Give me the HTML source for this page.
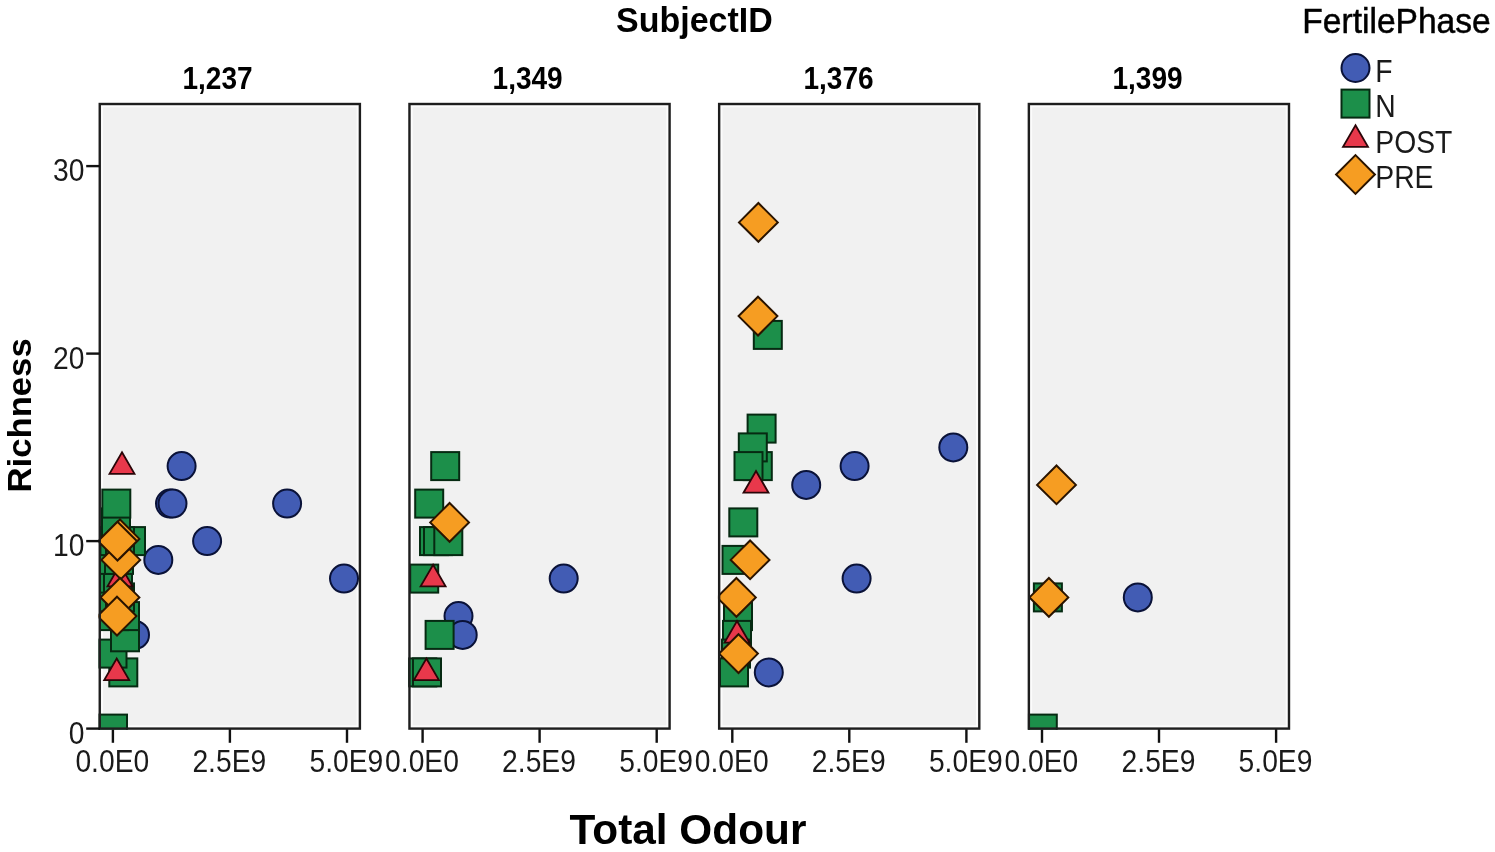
<!DOCTYPE html>
<html lang="en"><head><meta charset="utf-8"><title>Richness vs Total Odour by SubjectID</title>
<style>html,body{margin:0;padding:0;background:#fff}body{width:1495px;height:852px;overflow:hidden}svg{display:block}</style>
</head><body>
<svg width="1495" height="852" viewBox="0 0 1495 852" font-family="'Liberation Sans', Arial, sans-serif">
<rect width="1495" height="852" fill="#fff"/>
<defs>
<clipPath id="c0"><rect x="98.55" y="102.8" width="262.5" height="627.0"/></clipPath>
<clipPath id="c1"><rect x="408.25" y="102.8" width="262.5" height="627.0"/></clipPath>
<clipPath id="c2"><rect x="717.95" y="102.8" width="262.5" height="627.0"/></clipPath>
<clipPath id="c3"><rect x="1027.65" y="102.8" width="262.5" height="627.0"/></clipPath>
</defs>
<rect x="99.75" y="104.0" width="260.15" height="624.6" fill="#F1F1F1"/>
<rect x="102.15" y="106.4" width="255.35" height="619.8" fill="none" stroke="#fff" stroke-opacity="0.75" stroke-width="1.8"/>
<line x1="112.9" y1="728.6" x2="112.9" y2="742.8" stroke="#111" stroke-width="2.4"/>
<text transform="translate(112.3,771.6) scale(0.917,1)" font-size="30.8" text-anchor="middle" fill="#1a1a1a">0.0E0</text>
<line x1="229.9" y1="728.6" x2="229.9" y2="742.8" stroke="#111" stroke-width="2.4"/>
<text transform="translate(229.3,771.6) scale(0.917,1)" font-size="30.8" text-anchor="middle" fill="#1a1a1a">2.5E9</text>
<line x1="347.0" y1="728.6" x2="347.0" y2="742.8" stroke="#111" stroke-width="2.4"/>
<text transform="translate(346.4,771.6) scale(0.917,1)" font-size="30.8" text-anchor="middle" fill="#1a1a1a">5.0E9</text>
<text transform="translate(217.5,89.0) scale(0.89,1)" font-size="31.5" text-anchor="middle" fill="#000" font-weight="bold">1,237</text>
<g clip-path="url(#c0)">
<circle cx="181.6" cy="466.1" r="14.0" fill="#425CB4" stroke="#0A1238" stroke-width="2.0"/>
<circle cx="170.0" cy="503.6" r="14.0" fill="#425CB4" stroke="#0A1238" stroke-width="2.0"/>
<circle cx="172.5" cy="503.6" r="14.0" fill="#425CB4" stroke="#0A1238" stroke-width="2.0"/>
<circle cx="287.1" cy="503.6" r="14.0" fill="#425CB4" stroke="#0A1238" stroke-width="2.0"/>
<circle cx="207.1" cy="541.1" r="14.0" fill="#425CB4" stroke="#0A1238" stroke-width="2.0"/>
<circle cx="158.3" cy="559.9" r="14.0" fill="#425CB4" stroke="#0A1238" stroke-width="2.0"/>
<circle cx="344.0" cy="578.6" r="14.0" fill="#425CB4" stroke="#0A1238" stroke-width="2.0"/>
<circle cx="135.0" cy="634.9" r="14.0" fill="#425CB4" stroke="#0A1238" stroke-width="2.0"/>
<rect x="99.0" y="714.6" width="28" height="28" fill="#1C8F4A" stroke="#062A12" stroke-width="2.0"/>
<rect x="109.3" y="658.4" width="28" height="28" fill="#1C8F4A" stroke="#062A12" stroke-width="2.0"/>
<rect x="98.5" y="639.6" width="28" height="28" fill="#1C8F4A" stroke="#062A12" stroke-width="2.0"/>
<rect x="111.0" y="623.3" width="28" height="28" fill="#1C8F4A" stroke="#062A12" stroke-width="2.0"/>
<rect x="100.0" y="602.1" width="28" height="28" fill="#1C8F4A" stroke="#062A12" stroke-width="2.0"/>
<rect x="111.0" y="602.1" width="28" height="28" fill="#1C8F4A" stroke="#062A12" stroke-width="2.0"/>
<rect x="100.0" y="583.4" width="28" height="28" fill="#1C8F4A" stroke="#062A12" stroke-width="2.0"/>
<rect x="106.0" y="583.4" width="28" height="28" fill="#1C8F4A" stroke="#062A12" stroke-width="2.0"/>
<rect x="100.0" y="564.6" width="28" height="28" fill="#1C8F4A" stroke="#062A12" stroke-width="2.0"/>
<rect x="104.0" y="564.6" width="28" height="28" fill="#1C8F4A" stroke="#062A12" stroke-width="2.0"/>
<rect x="100.0" y="545.9" width="28" height="28" fill="#1C8F4A" stroke="#062A12" stroke-width="2.0"/>
<rect x="105.0" y="545.9" width="28" height="28" fill="#1C8F4A" stroke="#062A12" stroke-width="2.0"/>
<rect x="117.0" y="527.1" width="28" height="28" fill="#1C8F4A" stroke="#062A12" stroke-width="2.0"/>
<rect x="100.4" y="527.1" width="28" height="28" fill="#1C8F4A" stroke="#062A12" stroke-width="2.0"/>
<rect x="106.0" y="527.1" width="28" height="28" fill="#1C8F4A" stroke="#062A12" stroke-width="2.0"/>
<rect x="102.0" y="508.4" width="28" height="28" fill="#1C8F4A" stroke="#062A12" stroke-width="2.0"/>
<rect x="102.3" y="489.6" width="28" height="28" fill="#1C8F4A" stroke="#062A12" stroke-width="2.0"/>
<polygon points="122.0,452.2 134.5,473.9 109.5,473.9" fill="#E8384B" stroke="#2A0508" stroke-width="1.8"/>
<polygon points="120.0,564.7 132.5,586.4 107.5,586.4" fill="#E8384B" stroke="#2A0508" stroke-width="1.8"/>
<polygon points="116.7,658.5 129.2,680.1 104.2,680.1" fill="#E8384B" stroke="#2A0508" stroke-width="1.8"/>
<polygon points="120.8,540.5 140.2,559.9 120.8,579.2 101.4,559.9" fill="#F69D22" stroke="#2A1400" stroke-width="2.0"/>
<polygon points="120.0,519.5 139.4,538.9 120.0,558.2 100.6,538.9" fill="#F69D22" stroke="#2A1400" stroke-width="2.0"/>
<polygon points="117.5,521.7 136.9,541.1 117.5,560.5 98.1,541.1" fill="#F69D22" stroke="#2A1400" stroke-width="2.0"/>
<polygon points="120.0,578.0 139.4,597.4 120.0,616.8 100.6,597.4" fill="#F69D22" stroke="#2A1400" stroke-width="2.0"/>
<polygon points="117.0,596.7 136.4,616.1 117.0,635.5 97.6,616.1" fill="#F69D22" stroke="#2A1400" stroke-width="2.0"/>
</g>
<rect x="99.75" y="104.0" width="260.15" height="624.6" fill="none" stroke="#1e1e1e" stroke-width="2.4"/>
<rect x="409.45" y="104.0" width="260.15" height="624.6" fill="#F1F1F1"/>
<rect x="411.85" y="106.4" width="255.35" height="619.8" fill="none" stroke="#fff" stroke-opacity="0.75" stroke-width="1.8"/>
<line x1="422.6" y1="728.6" x2="422.6" y2="742.8" stroke="#111" stroke-width="2.4"/>
<text transform="translate(422.0,771.6) scale(0.917,1)" font-size="30.8" text-anchor="middle" fill="#1a1a1a">0.0E0</text>
<line x1="539.6" y1="728.6" x2="539.6" y2="742.8" stroke="#111" stroke-width="2.4"/>
<text transform="translate(539.0,771.6) scale(0.917,1)" font-size="30.8" text-anchor="middle" fill="#1a1a1a">2.5E9</text>
<line x1="656.7" y1="728.6" x2="656.7" y2="742.8" stroke="#111" stroke-width="2.4"/>
<text transform="translate(656.1,771.6) scale(0.917,1)" font-size="30.8" text-anchor="middle" fill="#1a1a1a">5.0E9</text>
<text transform="translate(527.6,89.0) scale(0.89,1)" font-size="31.5" text-anchor="middle" fill="#000" font-weight="bold">1,349</text>
<g clip-path="url(#c1)">
<circle cx="563.7" cy="578.6" r="14.0" fill="#425CB4" stroke="#0A1238" stroke-width="2.0"/>
<circle cx="458.5" cy="616.1" r="14.0" fill="#425CB4" stroke="#0A1238" stroke-width="2.0"/>
<circle cx="462.7" cy="634.9" r="14.0" fill="#425CB4" stroke="#0A1238" stroke-width="2.0"/>
<rect x="431.2" y="452.1" width="28" height="28" fill="#1C8F4A" stroke="#062A12" stroke-width="2.0"/>
<rect x="415.2" y="489.6" width="28" height="28" fill="#1C8F4A" stroke="#062A12" stroke-width="2.0"/>
<rect x="420.0" y="527.1" width="28" height="28" fill="#1C8F4A" stroke="#062A12" stroke-width="2.0"/>
<rect x="424.0" y="527.1" width="28" height="28" fill="#1C8F4A" stroke="#062A12" stroke-width="2.0"/>
<rect x="434.3" y="527.1" width="28" height="28" fill="#1C8F4A" stroke="#062A12" stroke-width="2.0"/>
<rect x="410.2" y="564.6" width="28" height="28" fill="#1C8F4A" stroke="#062A12" stroke-width="2.0"/>
<rect x="425.6" y="620.9" width="28" height="28" fill="#1C8F4A" stroke="#062A12" stroke-width="2.0"/>
<rect x="408.3" y="658.4" width="28" height="28" fill="#1C8F4A" stroke="#062A12" stroke-width="2.0"/>
<rect x="413.0" y="658.4" width="28" height="28" fill="#1C8F4A" stroke="#062A12" stroke-width="2.0"/>
<polygon points="433.1,564.7 445.6,586.4 420.6,586.4" fill="#E8384B" stroke="#2A0508" stroke-width="1.8"/>
<polygon points="426.4,658.5 438.9,680.1 413.9,680.1" fill="#E8384B" stroke="#2A0508" stroke-width="1.8"/>
<polygon points="449.6,503.0 469.0,522.4 449.6,541.8 430.2,522.4" fill="#F69D22" stroke="#2A1400" stroke-width="2.0"/>
</g>
<rect x="409.45" y="104.0" width="260.15" height="624.6" fill="none" stroke="#1e1e1e" stroke-width="2.4"/>
<rect x="719.15" y="104.0" width="260.15" height="624.6" fill="#F1F1F1"/>
<rect x="721.55" y="106.4" width="255.35" height="619.8" fill="none" stroke="#fff" stroke-opacity="0.75" stroke-width="1.8"/>
<line x1="732.3" y1="728.6" x2="732.3" y2="742.8" stroke="#111" stroke-width="2.4"/>
<text transform="translate(731.7,771.6) scale(0.917,1)" font-size="30.8" text-anchor="middle" fill="#1a1a1a">0.0E0</text>
<line x1="849.3" y1="728.6" x2="849.3" y2="742.8" stroke="#111" stroke-width="2.4"/>
<text transform="translate(848.7,771.6) scale(0.917,1)" font-size="30.8" text-anchor="middle" fill="#1a1a1a">2.5E9</text>
<line x1="966.4" y1="728.6" x2="966.4" y2="742.8" stroke="#111" stroke-width="2.4"/>
<text transform="translate(965.8,771.6) scale(0.917,1)" font-size="30.8" text-anchor="middle" fill="#1a1a1a">5.0E9</text>
<text transform="translate(838.5,89.0) scale(0.89,1)" font-size="31.5" text-anchor="middle" fill="#000" font-weight="bold">1,376</text>
<g clip-path="url(#c2)">
<circle cx="806.2" cy="484.9" r="14.0" fill="#425CB4" stroke="#0A1238" stroke-width="2.0"/>
<circle cx="854.6" cy="466.1" r="14.0" fill="#425CB4" stroke="#0A1238" stroke-width="2.0"/>
<circle cx="953.3" cy="447.4" r="14.0" fill="#425CB4" stroke="#0A1238" stroke-width="2.0"/>
<circle cx="856.6" cy="578.6" r="14.0" fill="#425CB4" stroke="#0A1238" stroke-width="2.0"/>
<circle cx="768.8" cy="672.4" r="14.0" fill="#425CB4" stroke="#0A1238" stroke-width="2.0"/>
<rect x="753.8" y="320.9" width="28" height="28" fill="#1C8F4A" stroke="#062A12" stroke-width="2.0"/>
<rect x="747.6" y="414.6" width="28" height="28" fill="#1C8F4A" stroke="#062A12" stroke-width="2.0"/>
<rect x="743.8" y="452.1" width="28" height="28" fill="#1C8F4A" stroke="#062A12" stroke-width="2.0"/>
<rect x="738.8" y="433.4" width="28" height="28" fill="#1C8F4A" stroke="#062A12" stroke-width="2.0"/>
<rect x="734.5" y="452.1" width="28" height="28" fill="#1C8F4A" stroke="#062A12" stroke-width="2.0"/>
<rect x="729.3" y="508.4" width="28" height="28" fill="#1C8F4A" stroke="#062A12" stroke-width="2.0"/>
<rect x="722.5" y="545.9" width="28" height="28" fill="#1C8F4A" stroke="#062A12" stroke-width="2.0"/>
<rect x="724.0" y="602.1" width="28" height="28" fill="#1C8F4A" stroke="#062A12" stroke-width="2.0"/>
<rect x="723.0" y="620.9" width="28" height="28" fill="#1C8F4A" stroke="#062A12" stroke-width="2.0"/>
<rect x="722.0" y="639.6" width="28" height="28" fill="#1C8F4A" stroke="#062A12" stroke-width="2.0"/>
<rect x="720.0" y="658.4" width="28" height="28" fill="#1C8F4A" stroke="#062A12" stroke-width="2.0"/>
<polygon points="756.0,471.0 768.5,492.7 743.5,492.7" fill="#E8384B" stroke="#2A0508" stroke-width="1.8"/>
<polygon points="737.0,621.0 749.5,642.6 724.5,642.6" fill="#E8384B" stroke="#2A0508" stroke-width="1.8"/>
<polygon points="758.4,203.0 777.8,222.4 758.4,241.8 739.0,222.4" fill="#F69D22" stroke="#2A1400" stroke-width="2.0"/>
<polygon points="758.0,296.7 777.4,316.1 758.0,335.5 738.6,316.1" fill="#F69D22" stroke="#2A1400" stroke-width="2.0"/>
<polygon points="750.1,540.5 769.5,559.9 750.1,579.2 730.7,559.9" fill="#F69D22" stroke="#2A1400" stroke-width="2.0"/>
<polygon points="736.4,578.0 755.8,597.4 736.4,616.8 717.0,597.4" fill="#F69D22" stroke="#2A1400" stroke-width="2.0"/>
<polygon points="738.5,634.2 757.9,653.6 738.5,673.0 719.1,653.6" fill="#F69D22" stroke="#2A1400" stroke-width="2.0"/>
</g>
<rect x="719.15" y="104.0" width="260.15" height="624.6" fill="none" stroke="#1e1e1e" stroke-width="2.4"/>
<rect x="1028.85" y="104.0" width="260.15" height="624.6" fill="#F1F1F1"/>
<rect x="1031.25" y="106.4" width="255.35" height="619.8" fill="none" stroke="#fff" stroke-opacity="0.75" stroke-width="1.8"/>
<line x1="1042.0" y1="728.6" x2="1042.0" y2="742.8" stroke="#111" stroke-width="2.4"/>
<text transform="translate(1041.4,771.6) scale(0.917,1)" font-size="30.8" text-anchor="middle" fill="#1a1a1a">0.0E0</text>
<line x1="1159.0" y1="728.6" x2="1159.0" y2="742.8" stroke="#111" stroke-width="2.4"/>
<text transform="translate(1158.5,771.6) scale(0.917,1)" font-size="30.8" text-anchor="middle" fill="#1a1a1a">2.5E9</text>
<line x1="1276.1" y1="728.6" x2="1276.1" y2="742.8" stroke="#111" stroke-width="2.4"/>
<text transform="translate(1275.5,771.6) scale(0.917,1)" font-size="30.8" text-anchor="middle" fill="#1a1a1a">5.0E9</text>
<text transform="translate(1147.5,89.0) scale(0.89,1)" font-size="31.5" text-anchor="middle" fill="#000" font-weight="bold">1,399</text>
<g clip-path="url(#c3)">
<circle cx="1137.8" cy="597.4" r="14.0" fill="#425CB4" stroke="#0A1238" stroke-width="2.0"/>
<rect x="1028.8" y="714.6" width="28" height="28" fill="#1C8F4A" stroke="#062A12" stroke-width="2.0"/>
<rect x="1033.9" y="583.4" width="28" height="28" fill="#1C8F4A" stroke="#062A12" stroke-width="2.0"/>
<polygon points="1056.5,465.5 1075.9,484.9 1056.5,504.2 1037.1,484.9" fill="#F69D22" stroke="#2A1400" stroke-width="2.0"/>
<polygon points="1048.9,578.0 1068.3,597.4 1048.9,616.8 1029.5,597.4" fill="#F69D22" stroke="#2A1400" stroke-width="2.0"/>
</g>
<rect x="1028.85" y="104.0" width="260.15" height="624.6" fill="none" stroke="#1e1e1e" stroke-width="2.4"/>
<line x1="86.2" y1="728.6" x2="99.75" y2="728.6" stroke="#111" stroke-width="2.4"/>
<text transform="translate(84.4,743.9) scale(0.917,1)" font-size="30.8" text-anchor="end" fill="#1a1a1a">0</text>
<line x1="86.2" y1="541.1" x2="99.75" y2="541.1" stroke="#111" stroke-width="2.4"/>
<text transform="translate(84.4,556.4) scale(0.917,1)" font-size="30.8" text-anchor="end" fill="#1a1a1a">10</text>
<line x1="86.2" y1="353.6" x2="99.75" y2="353.6" stroke="#111" stroke-width="2.4"/>
<text transform="translate(84.4,368.9) scale(0.917,1)" font-size="30.8" text-anchor="end" fill="#1a1a1a">20</text>
<line x1="86.2" y1="166.1" x2="99.75" y2="166.1" stroke="#111" stroke-width="2.4"/>
<text transform="translate(84.4,181.4) scale(0.917,1)" font-size="30.8" text-anchor="end" fill="#1a1a1a">30</text>
<text transform="translate(694.4,32.2) scale(0.971,1)" font-size="35" text-anchor="middle" fill="#000" font-weight="bold">SubjectID</text>
<text transform="translate(30.8,415.4) rotate(-90) scale(1.02,1)" font-size="34" text-anchor="middle" fill="#000" font-weight="bold">Richness</text>
<text transform="translate(688,843.8) scale(0.997,1)" font-size="42.5" text-anchor="middle" fill="#000" font-weight="bold">Total Odour</text>
<text transform="translate(1302.3,32.6) scale(0.962,1)" font-size="34.9" text-anchor="start" fill="#000" stroke="#000" stroke-width="0.5">FertilePhase</text>
<circle cx="1355.5" cy="68.0" r="14.0" fill="#425CB4" stroke="#0A1238" stroke-width="2.0"/>
<rect x="1341.5" y="89.6" width="28" height="28" fill="#1C8F4A" stroke="#062A12" stroke-width="2.0"/>
<polygon points="1355.5,125.2 1368.0,146.9 1343.0,146.9" fill="#E8384B" stroke="#2A0508" stroke-width="1.8"/>
<polygon points="1355.5,155.1 1374.9,174.5 1355.5,193.9 1336.1,174.5" fill="#F69D22" stroke="#2A1400" stroke-width="2.0"/>
<text transform="translate(1375.3,81.7) scale(0.919,1)" font-size="30.8" text-anchor="start" fill="#1a1a1a">F</text>
<text transform="translate(1375.3,117.1) scale(0.919,1)" font-size="30.8" text-anchor="start" fill="#1a1a1a">N</text>
<text transform="translate(1375.3,152.6) scale(0.919,1)" font-size="30.8" text-anchor="start" fill="#1a1a1a">POST</text>
<text transform="translate(1375.3,188.3) scale(0.919,1)" font-size="30.8" text-anchor="start" fill="#1a1a1a">PRE</text>
</svg>
</body></html>
